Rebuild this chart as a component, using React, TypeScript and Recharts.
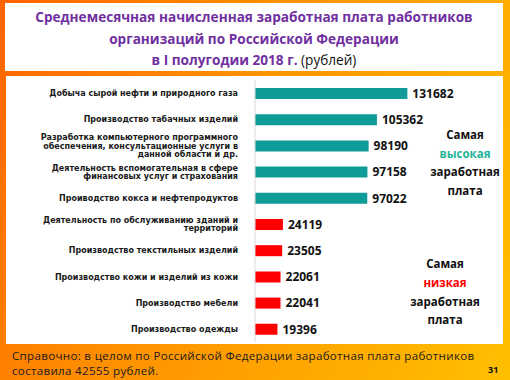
import { BarChart, Bar, XAxis, YAxis, Cell, LabelList } from "recharts";

// отрасли (сверху вниз), переносы строк как на слайде
const industries = [
    "Добыча сырой нефти и природного газа",
    "Производство табачных изделий",
    "Разработка компьютерного программного\nобеспечения, консультационные услуги в\nданной области и др.",
    "Деятельность вспомогательная в сфере\nфинансовых услуг и страхования",
    "Проиводство кокса и нефтепродуктов",
    "Деятельность по обслуживанию зданий и\nтерриторий",
    "Производство текстильных изделий",
    "Производство кожи и изделий из кожи",
    "Производство мебели",
    "Производство одежды",
];
const wages = [131682, 105362, 98190, 97158, 97022, 24119, 23505, 22061, 22041, 19396];
const groups = ["high", "high", "high", "high", "high", "low", "low", "low", "low", "low"];

const TEAL = "#0f9b98";
const RED = "#ff0000";
const FONT = "'Open Sans', sans-serif";

const data = industries.map((name, i) => ({ name, wage: wages[i], group: groups[i] }));

function IndustryTick(props: any) {
    const { x, y, payload } = props;
    const lines = String(payload.value).split("\n");
    const lh = 8.4;
    const y0 = y - ((lines.length - 1) * lh) / 2;
    return (
        <text
            x={x - 9}
            y={y0}
            textAnchor="end"
            dominantBaseline="central"
            fontFamily="'DejaVu Sans', sans-serif"
            fontWeight={700}
            fontSize={8}
            fill="#1a1a1a"
        >
            {lines.map((l: string, i: number) => (
                <tspan key={i} x={x - 9} y={y0 + i * lh}>
                    {l}
                </tspan>
            ))}
        </text>
    );
}

const footStyle = {
    position: "absolute" as const,
    left: 12,
    fontSize: 11.6,
    letterSpacing: 0.3,
    lineHeight: "14px",
    color: "#1a1a1a",
    whiteSpace: "nowrap" as const,
};

export default function App() {
    return (
        <div
            style={{
                position: "absolute",
                left: 0,
                top: 0,
                width: 510,
                height: 380,
                overflow: "hidden",
                background: "linear-gradient(115deg, #ff6400 0%, #ff9000 40%, #ffc000 100%)",
                fontFamily: FONT,
            }}
        >
            <div
                style={{
                    position: "absolute",
                    left: 5,
                    top: 3,
                    width: 498,
                    height: 68,
                    background: "#fff",
                }}
            />
            <div
                style={{
                    position: "absolute",
                    left: 6,
                    top: 76,
                    width: 497,
                    height: 268,
                    background: "#fff",
                }}
            />
            <div
                style={{
                    position: "absolute",
                    left: 5,
                    top: 6,
                    width: 498,
                    textAlign: "center",
                    color: "#7030a0",
                    fontWeight: 700,
                    fontSize: 13.6,
                    lineHeight: "21.5px",
                }}
            >
                Среднемесячная начисленная заработная плата работников
                <br />
                организаций по Российской Федерации
                <br />в I полугодии 2018 г.{" "}
                <span style={{ fontWeight: 400, color: "#111" }}>(рублей)</span>
            </div>

            <div style={{ position: "absolute", left: 0, top: 0 }}>
                <BarChart
                    width={510}
                    height={380}
                    layout="vertical"
                    data={data}
                    margin={{ top: 80, right: 93, bottom: 38, left: 0 }}
                >
                    <XAxis type="number" domain={[0, 140000]} hide />
                    <YAxis
                        type="category"
                        dataKey="name"
                        width={255}
                        interval={0}
                        tickLine={false}
                        axisLine={{ stroke: "#d9d9d9", strokeWidth: 1 }}
                        tick={<IndustryTick />}
                    />
                    <Bar dataKey="wage" barSize={11} isAnimationActive={false}>
                        {data.map((d, i) => (
                            <Cell key={i} fill={d.group === "high" ? TEAL : RED} />
                        ))}
                        <LabelList
                            dataKey="wage"
                            position="right"
                            offset={5}
                            style={{
                                fontFamily: FONT,
                                fontWeight: 700,
                                fontSize: 12,
                                fill: "#111",
                            }}
                        />
                    </Bar>
                </BarChart>
            </div>

            <div
                style={{
                    position: "absolute",
                    left: 425,
                    top: 126,
                    width: 80,
                    textAlign: "center",
                    fontWeight: 700,
                    fontSize: 11.5,
                    lineHeight: "18.5px",
                    color: "#111",
                }}
            >
                Самая
                <br />
                <span style={{ color: "#1fb59a" }}>высокая</span>
                <br />
                заработная
                <br />
                плата
            </div>
            <div
                style={{
                    position: "absolute",
                    left: 405,
                    top: 255,
                    width: 80,
                    textAlign: "center",
                    fontWeight: 700,
                    fontSize: 11.5,
                    lineHeight: "18.8px",
                    color: "#111",
                }}
            >
                Самая
                <br />
                <span style={{ color: RED }}>низкая</span>
                <br />
                заработная
                <br />
                плата
            </div>

            <div style={{ ...footStyle, top: 349 }}>
                Справочно: в целом по Российской Федерации заработная плата работников
            </div>
            <div style={{ ...footStyle, top: 364 }}>составила 42555 рублей.</div>
            <div
                style={{
                    position: "absolute",
                    left: 488,
                    top: 363,
                    fontSize: 9,
                    fontWeight: 700,
                    color: "#111",
                }}
            >
                31
            </div>
        </div>
    );
}
